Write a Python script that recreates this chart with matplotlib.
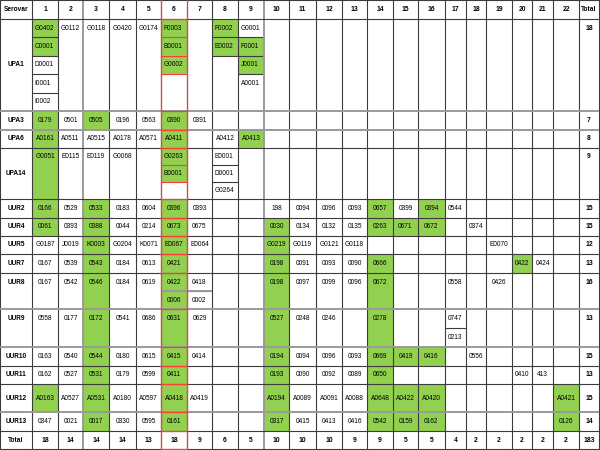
import matplotlib
matplotlib.use("Agg")
import matplotlib.pyplot as plt
from matplotlib.patches import Rectangle

# --- data ---------------------------------------------------------------
serovars = ["UPA1", "UPA3", "UPA6", "UPA14", "UUR2", "UUR4", "UUR5", "UUR7",
            "UUR8", "UUR9", "UUR10", "UUR11", "UUR12", "UUR13"]
row_totals = [18, 7, 8, 9, 15, 15, 12, 13, 16, 13, 15, 13, 15, 14]
col_labels = [str(i) for i in range(1, 23)]
col_totals = [18, 14, 14, 14, 13, 18, 9, 6, 5, 10, 10, 10, 9, 9, 5, 5, 4, 2, 2, 2, 2, 2]
grand_total = 183

# one string per column, "|" splits sub-cells, "+" = highlighted (green)
cells = {
    "UPA1": ["G0402+|C0001+|D0001|I0001|I0002", "G0112", "G0118", "G0420", "G0174",
             "F0003+|B0001+|G0002+", "", "F0002+|E0002+", "G0001|F0001+|J0001+|A0001",
             "", "", "", "", "", "", "", "", "", "", "", "", ""],
    "UPA3": ["0179+", "0501", "0505+", "0196", "0563", "0390+", "0391",
             "", "", "", "", "", "", "", "", "", "", "", "", "", "", ""],
    "UPA6": ["A0161+", "A0511", "A0515", "A0178", "A0571", "A0411+", "", "A0412", "A0413+",
             "", "", "", "", "", "", "", "", "", "", "", "", ""],
    "UPA14": ["G0051+", "E0115", "E0119", "G0068", "", "G0263+|B0001+", "", "E0001|D0001|G0264", "",
              "", "", "", "", "", "", "", "", "", "", "", "", ""],
    "UUR2": ["0166+", "0529", "0533+", "0183", "0604", "0396+", "0393", "", "",
             "198", "0094", "0096", "0093", "0657+", "0399", "0394+", "0544", "", "", "", "", ""],
    "UUR4": ["0061+", "0393", "0388+", "0044", "0214", "0673+", "0675", "", "",
             "0030+", "0134", "0132", "0135", "0263+", "0671+", "0672+", "", "0374", "", "", "", ""],
    "UUR5": ["G0187", "J0019", "K0003+", "G0204", "K0071", "E0067+", "E0064", "", "",
             "G0219+", "G0119", "G0121", "G0118", "", "", "", "", "", "E0070", "", "", ""],
    "UUR7": ["0167", "0539", "0543+", "0184", "0613", "0421+", "", "", "",
             "0198+", "0091", "0093", "0090", "0666+", "", "", "", "", "", "0422+", "0424", ""],
    "UUR8": ["0167", "0542", "0546+", "0184", "0619", "0422+|0006+", "0418|0002", "", "",
             "0198+", "0097", "0099", "0096", "0672+", "", "", "0558", "", "0426", "", "", ""],
    "UUR9": ["0558", "0177", "0172+", "0541", "0686", "0631+", "0629", "", "",
             "0527+", "0248", "0246", "", "0278+", "", "", "0747|0213", "", "", "", "", ""],
    "UUR10": ["0163", "0540", "0544+", "0180", "0615", "0415+", "0414", "", "",
              "0194+", "0094", "0096", "0093", "0669+", "0419+", "0416+", "", "0556", "", "", "", ""],
    "UUR11": ["0162", "0527", "0531+", "0179", "0599", "0411+", "", "", "",
              "0193+", "0090", "0092", "0089", "0650+", "", "", "", "", "", "0410", "413", ""],
    "UUR12": ["A0163+", "A0527", "A0531+", "A0180", "A0597", "A0418+", "A0419", "", "",
              "A0194+", "A0089", "A0091", "A0088", "A0648+", "A0422+", "A0420+", "", "", "", "", "", "A0421+"],
    "UUR13": ["0347", "0021", "0017+", "0330", "0595", "0161+", "", "", "",
              "0317+", "0415", "0413", "0416", "0542+", "0159+", "0162+", "", "", "", "", "", "0126+"],
}

# --- layout (pixels) ----------------------------------------------------
col_edges = [0, 32, 58, 83, 109, 136, 161, 187, 212, 238, 264, 289, 316, 342,
             367, 393, 418, 445, 466, 486, 512, 532, 553, 579, 599]
row_edges = [0, 19, 111, 130, 148, 199, 218, 236, 254, 273, 309, 347, 366, 384, 412, 431, 449]
n_sub = {"UPA1": 5, "UPA14": 3, "UUR8": 2, "UUR9": 2}
label_top = {"UUR8", "UUR9"}
red_col = 6
gray_v = [83, 264]
gray_h = [111, 130, 309, 347, 412]

GREEN = "#92d050"
DARK = "#3c3c3c"
GRAY = "#9a9a9a"
RED = "#ff3a3a"
FONT = "Liberation Sans"
FS = 4.7

fig = plt.figure(figsize=(6, 4.5), dpi=100)
ax = fig.add_axes([0, 0, 1, 1])
ax.set_xlim(0, 600)
ax.set_ylim(450, 0)
ax.axis("off")


def cx(c):
    return (col_edges[c] + col_edges[c + 1]) / 2


def hline(y, x0, x1, color=DARK, lw=0.8, z=2):
    ax.plot([x0, x1], [y, y], color=color, lw=lw, zorder=z, solid_capstyle="butt")


# header
ax.text(cx(0), 9.5, "Serovar", ha="center", va="center", fontsize=FS, fontweight="bold", family=FONT)
for i, lab in enumerate(col_labels):
    ax.text(cx(i + 1), 9.5, lab, ha="center", va="center", fontsize=FS + 0.2, fontweight="bold", family=FONT)
ax.text(cx(23), 9.5, "Total", ha="center", va="center", fontsize=FS, fontweight="bold", family=FONT)

sub_lines = []
for r, name in enumerate(serovars):
    y0, y1 = row_edges[r + 1], row_edges[r + 2]
    ns = n_sub.get(name, 1)
    h = (y1 - y0) / ns
    ytop = y0 + h / 2
    ax.text(cx(0), ytop if name in label_top else (y0 + y1) / 2, name,
            ha="center", va="center", fontsize=FS, fontweight="bold", family=FONT)
    ax.text(cx(23), ytop, str(row_totals[r]), ha="center", va="center",
            fontsize=FS + 0.2, fontweight="bold", family=FONT)
    for c, cell in enumerate(cells[name]):
        if not cell:
            continue
        col = c + 1
        xa, xb = col_edges[col], col_edges[col + 1]
        entries = cell.split("|")
        if len(entries) == 1:
            code = entries[0]
            if code.endswith("+"):
                ax.add_patch(Rectangle((xa, y0), xb - xa, y1 - y0, color=GREEN, lw=0, zorder=1))
            ax.text(cx(col), ytop, code.rstrip("+"), ha="center", va="center", fontsize=FS, family=FONT, zorder=4)
            continue
        for k, code in enumerate(entries):
            sy = y0 + k * h
            green = code.endswith("+")
            if green:
                ax.add_patch(Rectangle((xa, sy), xb - xa, h, color=GREEN, lw=0, zorder=1))
            if ns >= 3:
                ax.text(xa + 2.5, sy + h / 2, code.rstrip("+"), ha="left", va="center", fontsize=FS, family=FONT, zorder=4)
            else:
                ax.text(cx(col), sy + h / 2, code.rstrip("+"), ha="center", va="center", fontsize=FS, family=FONT, zorder=4)
            if k < len(entries) - 1 or green:
                if sy + h < y1 - 0.5:
                    sub_lines.append((sy + h, col))

for y, col in sub_lines:
    color = RED if col == red_col else DARK
    hline(y, col_edges[col], col_edges[col + 1], color=color, z=3 if col == red_col else 2)

# split line in UUR8 crossing columns 6-7 drawn gray
hline(row_edges[9] + (row_edges[10] - row_edges[9]) / 2, col_edges[6], col_edges[8], color=GRAY, lw=1.4, z=3)

# totals row
yt = (row_edges[-2] + row_edges[-1]) / 2
ax.text(cx(0), yt, "Total", ha="center", va="center", fontsize=FS, fontweight="bold", family=FONT)
for i, t in enumerate(col_totals):
    ax.text(cx(i + 1), yt, str(t), ha="center", va="center", fontsize=FS + 0.2, fontweight="bold", family=FONT)
ax.text(cx(23), yt, str(grand_total), ha="center", va="center", fontsize=FS + 0.2, fontweight="bold", family=FONT)

# grid
for x in col_edges:
    g = x in gray_v
    ax.plot([x, x], [0, 449], color=GRAY if g else DARK, lw=1.4 if g else 0.8, zorder=2)
for y in row_edges:
    g = y in gray_h
    hline(y, 0, 599, color=GRAY if g else DARK, lw=1.4 if g else 0.8)

# highlighted column 6 frame
xa, xb = col_edges[red_col], col_edges[red_col + 1]
for x in (xa, xb):
    ax.plot([x, x], [0, 449], color=RED, lw=0.9, zorder=3)
for y in row_edges[1:]:
    hline(y, xa, xb, color=RED, lw=0.9, z=3)

fig.savefig("out.png", dpi=100)
